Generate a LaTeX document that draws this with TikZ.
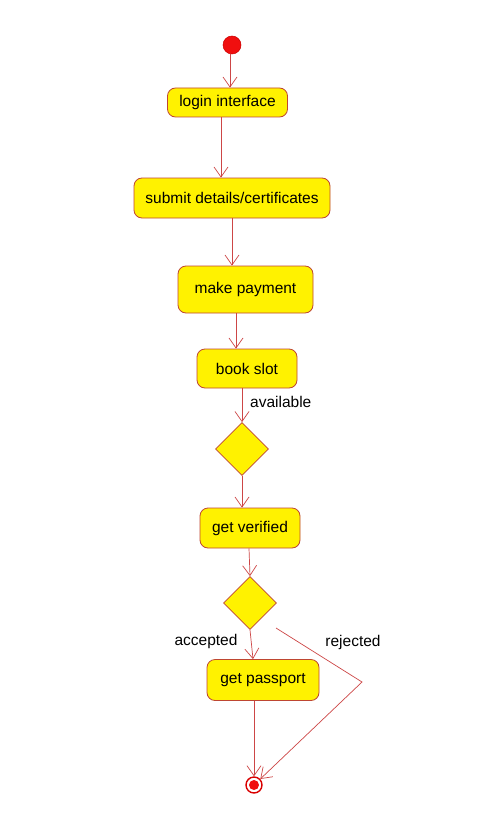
\documentclass[tikz,border=0pt]{standalone}
\usepackage{fontspec}
\setmainfont{Liberation Sans}
\usetikzlibrary{shapes.geometric,arrows.meta}
\definecolor{boxborder}{RGB}{190,70,50}
\definecolor{flow}{RGB}{205,70,70}
\definecolor{startred}{RGB}{240,15,15}
\begin{document}
\begin{tikzpicture}[x=1pt,y=-1pt,
  every node/.style={font=\fontsize{15.5}{18}\selectfont},
  act/.style={draw=boxborder,fill=yellow,rounded corners=8pt,line width=0.8pt,inner sep=0pt},
  dec/.style={draw=boxborder,fill=yellow,diamond,line width=0.8pt,inner sep=0pt,minimum width=53pt,minimum height=53pt},
  flowline/.style={draw=flow,line width=0.7pt,-{Straight Barb[length=10pt,width=14pt]}},
  lbl/.style={inner sep=0pt}]
\useasboundingbox (0,0) rectangle (497,840);
\fill[white] (0,0) rectangle (497,840);

\node[circle,fill=startred,draw=red!80!black,line width=0.5pt,minimum size=18pt,inner sep=0pt] (start) at (232,45) {};
\node[act,minimum width=120pt,minimum height=29pt] (login) at (227.5,102.5) {login interface};
\node[act,minimum width=196pt,minimum height=40pt] (submit) at (232,198) {submit details/certificates};
\node[act,minimum width=135pt,minimum height=47pt] (pay) at (245.5,289.5) {make payment};
\node[act,minimum width=100pt,minimum height=39pt] (book) at (247,368.5) {book slot};
\node[dec] (d1) at (242,449) {};
\node[act,minimum width=100pt,minimum height=40pt] (verify) at (250,528) {get verified};
\node[dec] (d2) at (250,603) {};
\node[act,minimum width=112pt,minimum height=41pt] (passport) at (263,680) {get passport};
\node[circle,draw=red!85!black,fill=white,line width=1.4pt,minimum size=16pt,inner sep=0pt] (end) at (254,785) {};
\fill[startred] (end.center) circle (5pt);

\coordinate (rejstart) at (276,628);
\coordinate (rejbend) at (362,682);

\draw[flowline] ([xshift=-2pt]start.south) -- ([xshift=2.5pt]login.north);
\draw[flowline] ([xshift=-6.5pt]login.south) -- ([xshift=-11pt]submit.north);
\draw[flowline] (submit.south) -- ([xshift=-13.5pt]pay.north);
\draw[flowline] ([xshift=-9.5pt]pay.south) -- ([xshift=-11pt]book.north);
\draw[flowline] ([xshift=-5pt]book.south) -- (d1.north);
\draw[flowline] (d1.south) -- ([xshift=-8pt]verify.north);
\draw[flowline] ([xshift=-1pt]verify.south) -- (d2.north);
\draw[flowline] (d2.south) -- ([xshift=-10pt]passport.north);
\draw[flowline] ([xshift=-9pt]passport.south) -- (end.north);
\draw[flowline] (rejstart) -- (rejbend) -- (end);

\node[lbl,anchor=west] (lavail) at (250,402) {available};
\node[lbl] (laccept) at (206,641) {accepted};
\node[lbl] (lreject) at (353,642) {rejected};
\end{tikzpicture}
\end{document}
